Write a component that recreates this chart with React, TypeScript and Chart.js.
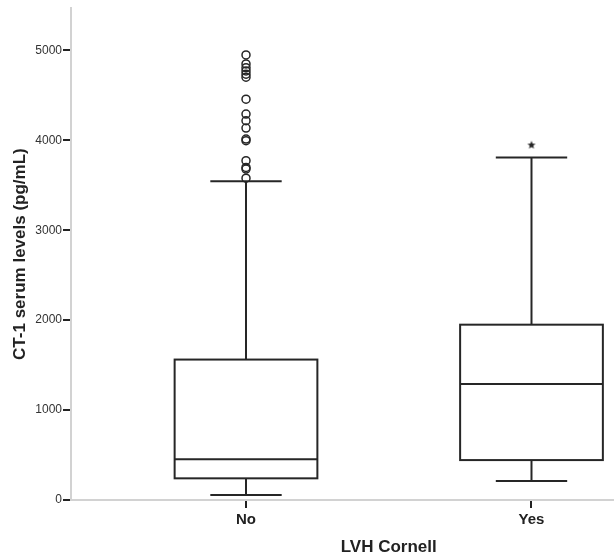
import React, { useEffect, useRef } from 'react';
import { Chart, registerables } from 'chart.js';

Chart.register(...registerables);

// ---- Data ----
const categories = ['No', 'Yes'];
const categoryPositions = [1, 2];
const whiskerLow = [55, 211];
const q1Values = [241, 444];
const medianValues = [452, 1291];
const q3Values = [1562, 1950];
const whiskerHigh = [3544, 3810];
const outliersNo = [4950, 4850, 4809, 4772, 4736, 4703, 4458, 4292, 4218, 4137, 4014, 3996, 3774, 3699, 3681, 3580];
const extremesYes = [3954];
const yTickValues = [0, 1000, 2000, 3000, 4000, 5000];
const xAxisTitle = 'LVH Cornell';
const yAxisTitle = 'CT-1 serum levels (pg/mL)';

// ---- Layout / style constants ----
const Y_MAX = 5470;
const X_MIN = 0.387;
const X_MAX = 2.289;
const BOX_HALF = 0.25;
const CAP_HALF = 0.125;
const FONT = '"Liberation Sans", Arial, Helvetica, sans-serif';
const INK = '#262626';

function makeStarImage(): HTMLCanvasElement {
  const size = 10;
  const c = document.createElement('canvas');
  c.width = size;
  c.height = size;
  const g = c.getContext('2d')!;
  const cx = size / 2;
  const cy = size / 2 + 0.5;
  const outer = 4.3;
  const inner = 1.9;
  g.beginPath();
  for (let k = 0; k < 10; k++) {
    const r = k % 2 === 0 ? outer : inner;
    const a = -Math.PI / 2 + (k * Math.PI) / 5;
    const px = cx + r * Math.cos(a);
    const py = cy + r * Math.sin(a);
    if (k === 0) g.moveTo(px, py);
    else g.lineTo(px, py);
  }
  g.closePath();
  g.fillStyle = INK;
  g.fill();
  return c;
}

const boxPlugin = {
  id: 'boxplotDraw',
  beforeDatasetsDraw(chart: any) {
    const { ctx } = chart;
    const x = chart.scales.x;
    const y = chart.scales.y;
    ctx.save();
    ctx.strokeStyle = INK;
    ctx.lineWidth = 2;
    ctx.lineCap = 'butt';
    const line = (x1: number, y1: number, x2: number, y2: number) => {
      ctx.beginPath();
      ctx.moveTo(x1, y1);
      ctx.lineTo(x2, y2);
      ctx.stroke();
    };
    categoryPositions.forEach((pos, i) => {
      const xc = x.getPixelForValue(pos);
      const xl = x.getPixelForValue(pos - BOX_HALF);
      const xr = x.getPixelForValue(pos + BOX_HALF);
      const cl = x.getPixelForValue(pos - CAP_HALF);
      const cr = x.getPixelForValue(pos + CAP_HALF);
      const yLo = y.getPixelForValue(whiskerLow[i]);
      const yQ1 = y.getPixelForValue(q1Values[i]);
      const yMed = y.getPixelForValue(medianValues[i]);
      const yQ3 = y.getPixelForValue(q3Values[i]);
      const yHi = y.getPixelForValue(whiskerHigh[i]);
      line(xc, yQ3, xc, yHi);
      line(cl, yHi, cr, yHi);
      line(xc, yQ1, xc, yLo);
      line(cl, yLo, cr, yLo);
      ctx.strokeRect(xl, yQ3, xr - xl, yQ1 - yQ3);
      line(xl, yMed, xr, yMed);
    });
    ctx.restore();
  },
  afterDraw(chart: any) {
    // x-axis title centred between the two categories (the original plot is wider than the crop)
    const { ctx } = chart;
    const x = chart.scales.x;
    const mid = (categoryPositions[0] + categoryPositions[categoryPositions.length - 1]) / 2;
    ctx.save();
    ctx.font = `bold 17px ${FONT}`;
    ctx.fillStyle = '#222';
    ctx.textAlign = 'center';
    ctx.textBaseline = 'middle';
    ctx.fillText(xAxisTitle, x.getPixelForValue(mid), x.bottom - 12);
    ctx.restore();
  },
};

export default function App() {
  const canvasRef = useRef<HTMLCanvasElement | null>(null);

  useEffect(() => {
    if (!canvasRef.current) return;
    const starImg = makeStarImage();
    const chart = new Chart(canvasRef.current, {
      type: 'scatter',
      data: {
        datasets: [
          {
            label: 'Outliers No',
            data: outliersNo.map((v) => ({ x: categoryPositions[0], y: v })),
            pointStyle: 'circle',
            radius: 4,
            borderWidth: 1.5,
            borderColor: INK,
            backgroundColor: 'rgba(255,255,255,0)',
          },
          {
            label: 'Extremes Yes',
            data: extremesYes.map((v) => ({ x: categoryPositions[1], y: v })),
            pointStyle: starImg,
            radius: 5,
            borderWidth: 0,
            borderColor: INK,
            backgroundColor: INK,
          },
        ],
      },
      options: {
        animation: false,
        responsive: false,
        maintainAspectRatio: false,
        layout: { autoPadding: false, padding: { top: 7, left: 0, right: 0, bottom: 0 } },
        plugins: {
          legend: { display: false },
          tooltip: { enabled: false },
        },
        scales: {
          x: {
            type: 'linear',
            min: X_MIN,
            max: X_MAX,
            afterBuildTicks: (s: any) => {
              s.ticks = categoryPositions.map((v) => ({ value: v }));
            },
            afterFit: (s: any) => {
              s.height = 59;
            },
            ticks: {
              callback: (v: any) => {
                const idx = categoryPositions.indexOf(Number(v));
                return idx >= 0 ? categories[idx] : '';
              },
              font: { family: FONT, size: 15, weight: 'bold' },
              color: '#222',
              padding: 3,
              maxRotation: 0,
              autoSkip: false,
            },
            grid: {
              drawOnChartArea: false,
              drawTicks: true,
              tickLength: 8,
              color: '#222',
              lineWidth: 2,
            },
            border: { color: '#d2d2d2', width: 2 },
            title: { display: false },
          },
          y: {
            type: 'linear',
            min: 0,
            max: Y_MAX,
            afterBuildTicks: (s: any) => {
              s.ticks = yTickValues.map((v) => ({ value: v }));
            },
            afterFit: (s: any) => {
              s.width = 71;
            },
            ticks: {
              callback: (v: any) => String(v),
              font: { family: FONT, size: 12 },
              color: '#333',
              padding: 1,
            },
            grid: {
              drawOnChartArea: false,
              drawTicks: true,
              tickLength: 8,
              color: '#222',
              lineWidth: 2,
            },
            border: { color: '#d2d2d2', width: 2 },
            title: {
              display: true,
              text: yAxisTitle,
              font: { family: FONT, size: 17, weight: 'bold' },
              color: '#222',
              padding: { top: 10, bottom: 0 },
            },
          },
        },
      } as any,
      plugins: [boxPlugin],
    });
    return () => chart.destroy();
  }, []);

  return (
    <div style={{ position: 'absolute', left: 0, top: 0, width: 614, height: 559, background: '#fff' }}>
      <canvas ref={canvasRef} width={614} height={559} style={{ display: 'block' }} />
    </div>
  );
}
